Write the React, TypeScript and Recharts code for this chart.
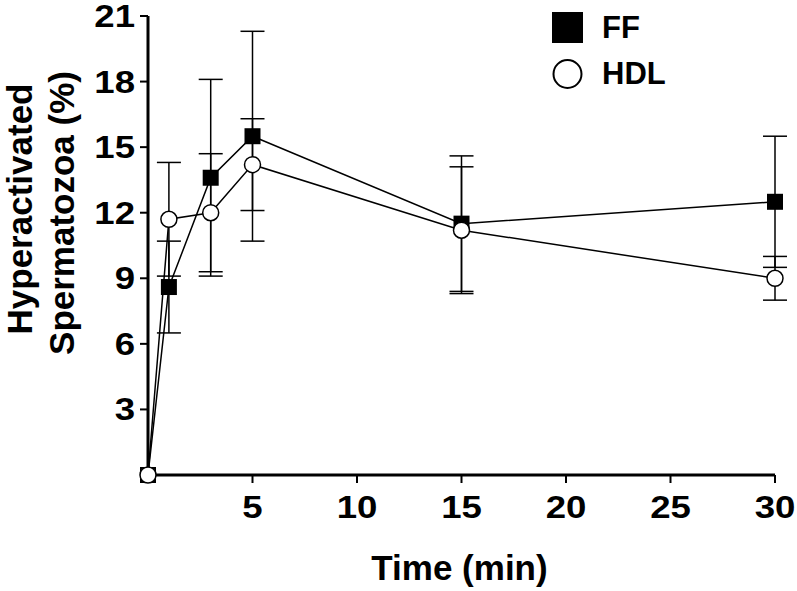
import React from 'react';
import { LineChart, Line, XAxis, YAxis, ErrorBar } from 'recharts';

// time points (min)
const times = [0, 1, 3, 5, 15, 30];
// FF series: mean and SEM
const ffValues = [0, 8.6, 13.6, 15.5, 11.5, 12.5];
const ffErrors = [0, 2.1, 4.5, 4.8, 3.1, 3.0];
// HDL series: mean and SEM
const hdlValues = [0, 11.7, 12.0, 14.2, 11.2, 9.0];
const hdlErrors = [0, 2.6, 2.7, 2.1, 2.9, 1.0];

const xTicks = [5, 10, 15, 20, 25, 30];
const yTicks = [3, 6, 9, 12, 15, 18, 21];
const seriesNames = ['FF', 'HDL'];

const FONT = '"Liberation Sans", Arial, sans-serif';

const data = times.map((t, i) => ({
  time: t,
  ff: ffValues[i],
  ffErr: ffErrors[i],
  hdl: hdlValues[i],
  hdlErr: hdlErrors[i],
}));

const SquareDot = (props: any) => {
  const { cx, cy } = props;
  if (cx == null || cy == null) return null;
  return <rect x={cx - 8} y={cy - 8} width={16} height={16} fill="#000" />;
};

const CircleDot = (props: any) => {
  const { cx, cy } = props;
  if (cx == null || cy == null) return null;
  return <circle cx={cx} cy={cy} r={8} fill="#fff" stroke="#000" strokeWidth={1.5} />;
};

// digits in the original are a bit wider than Liberation Sans
const XTick = (props: any) => {
  const { x, y, payload } = props;
  return (
    <text transform={`translate(${x},${y + 33}) scale(1.18,1)`} textAnchor="middle" fontFamily={FONT} fontWeight="bold" fontSize={31} fill="#000">
      {payload.value}
    </text>
  );
};

const YTick = (props: any) => {
  const { x, y, payload } = props;
  return (
    <text transform={`translate(${x - 3},${y + 11}) scale(1.18,1)`} textAnchor="end" fontFamily={FONT} fontWeight="bold" fontSize={31} fill="#000">
      {payload.value}
    </text>
  );
};

const YTitle = () => (
  <g fontFamily={FONT} fontWeight="bold" fontSize={35} fill="#000">
    <text transform="translate(32,209) rotate(-90)" textAnchor="middle">Hyperactivated</text>
    <text transform="translate(74,213) rotate(-90)" textAnchor="middle">Spermatozoa (%)</text>
  </g>
);

const XTitle = (props: any) => {
  const { viewBox } = props;
  return (
    <text x={viewBox.x + viewBox.width / 2 - 2} y={580} textAnchor="middle" fontFamily={FONT} fontWeight="bold" fontSize={35} fill="#000">
      Time (min)
    </text>
  );
};

const LegendBox = () => (
  <svg width={140} height={100} style={{ position: 'absolute', left: 548, top: 0 }}>
    <rect x={4} y={12} width={31} height={31} fill="#000" />
    <text x={54} y={38} fontFamily={FONT} fontWeight="bold" fontSize={31} fill="#000">{seriesNames[0]}</text>
    <circle cx={19.5} cy={74} r={14} fill="#fff" stroke="#000" strokeWidth={2} />
    <text x={54} y={84} fontFamily={FONT} fontWeight="bold" fontSize={31} fill="#000">{seriesNames[1]}</text>
  </svg>
);

export default function App() {
  return (
    <div style={{ position: 'relative', width: 797, height: 591, background: '#fff' }}>
      <style>{'body{margin:0}'}</style>
      <LineChart width={797} height={591} data={data} margin={{ top: 16, right: 22, bottom: 76, left: 88 }}>
        <XAxis
          dataKey="time"
          type="number"
          domain={[0, 30]}
          ticks={xTicks}
          tick={<XTick />}
          tickSize={8}
          axisLine={{ stroke: '#000', strokeWidth: 3 }}
          tickLine={{ stroke: '#000', strokeWidth: 2 }}
          height={40}
          label={{ content: (p: any) => <XTitle {...p} /> }}
        />
        <YAxis
          type="number"
          domain={[0, 21]}
          ticks={yTicks}
          tick={<YTick />}
          tickSize={8}
          width={60}
          axisLine={{ stroke: '#000', strokeWidth: 3 }}
          tickLine={{ stroke: '#000', strokeWidth: 2 }}
          label={{ content: () => <YTitle /> }}
        />
        <Line dataKey="ff" name={seriesNames[0]} stroke="#000" strokeWidth={1.5} dot={<SquareDot />} activeDot={false} isAnimationActive={false}>
          <ErrorBar dataKey="ffErr" width={12} stroke="#000" strokeWidth={1.5} direction="y" />
        </Line>
        <Line dataKey="hdl" name={seriesNames[1]} stroke="#000" strokeWidth={1.5} dot={<CircleDot />} activeDot={false} isAnimationActive={false}>
          <ErrorBar dataKey="hdlErr" width={12} stroke="#000" strokeWidth={1.5} direction="y" />
        </Line>
      </LineChart>
      <LegendBox />
    </div>
  );
}
